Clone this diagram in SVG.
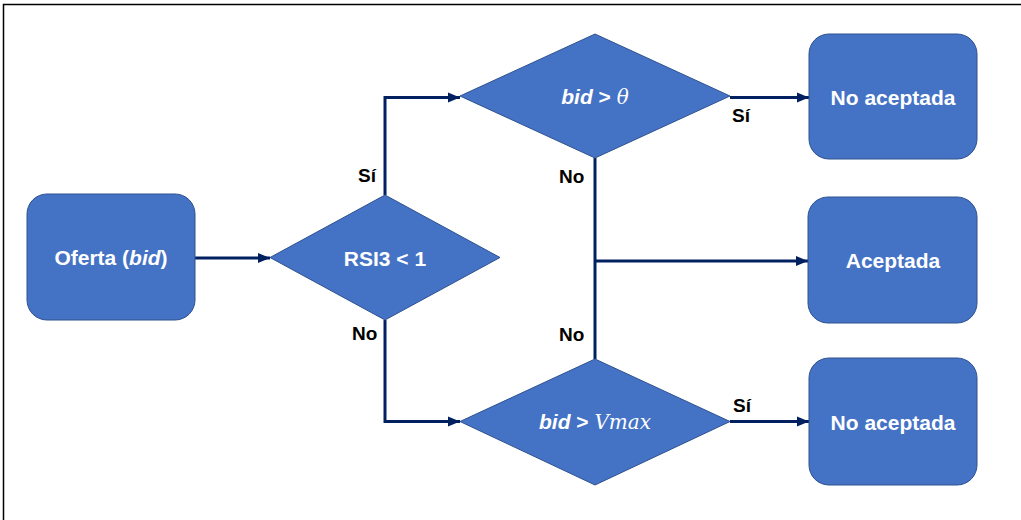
<svg xmlns="http://www.w3.org/2000/svg" width="1021" height="520" viewBox="0 0 1021 520">
  <defs>
    <style>
      .box { fill: #4472C4; stroke: #2F528F; stroke-width: 1; }
      .node-text { font-family: "Liberation Sans", Arial, sans-serif; font-weight: bold; font-size: 21px; fill: #FFFFFF; text-anchor: middle; }
      .math { font-family: "DejaVu Serif", "Liberation Serif", serif; font-style: italic; font-weight: normal; font-size: 20px; }
      .edge { fill: none; stroke: #002060; stroke-width: 3; marker-end: url(#arrow); }
      .edge-plain { fill: none; stroke: #002060; stroke-width: 3; }
      .label { font-family: "Liberation Sans", Arial, sans-serif; font-weight: bold; font-size: 19px; fill: #000000; }
    </style>
    <marker id="arrow" markerUnits="userSpaceOnUse" markerWidth="13" markerHeight="12" refX="12" refY="6" orient="auto">
      <path d="M0,1 L12,6 L0,11 Z" fill="#002060"/>
    </marker>
  </defs>

  <rect width="1021" height="520" fill="#FFFFFF"/>
  <!-- outer frame -->
  <path d="M1021,4.5 H3.5 V520" fill="none" stroke="#000000" stroke-width="1.5"/>

  <!-- connectors -->
  <g id="connectors">
    <path class="edge" d="M195,258 H270"/>
    <path class="edge" d="M385,195 V97.5 H460"/>
    <path class="edge" d="M385,320 V421.5 H460"/>
    <path class="edge" d="M730,97.5 H809"/>
    <path class="edge" d="M730,421.5 H809"/>
    <path class="edge-plain" d="M595,158 V359"/>
    <path class="edge" d="M595,261 H808"/>
    <text class="label" x="358" y="182">Sí</text>
    <text class="label" x="352" y="340">No</text>
    <text class="label" x="732" y="122">Sí</text>
    <text class="label" x="559" y="183">No</text>
    <text class="label" x="559" y="341">No</text>
    <text class="label" x="733" y="412">Sí</text>
  </g>

  <g id="oferta">
    <rect class="box" x="27" y="194" width="168" height="126" rx="20" ry="20"/>
    <text class="node-text" x="111" y="265">Oferta (<tspan font-style="italic">bid</tspan>)</text>
  </g>

  <g id="rsi3">
    <polygon class="box" points="385,195 500,257.5 385,320 270,257.5"/>
    <text class="node-text" x="385" y="266">RSI3 &lt; 1</text>
  </g>

  <g id="theta">
    <polygon class="box" points="595,34 730,96 595,158 460,96"/>
    <text class="node-text" x="595" y="104"><tspan font-style="italic">bid</tspan> &gt; <tspan class="math">θ</tspan></text>
  </g>

  <g id="vmax">
    <polygon class="box" points="595,359 730,421.5 595,485 460,421.5"/>
    <text class="node-text" x="595" y="429"><tspan font-style="italic">bid</tspan> &gt; <tspan class="math">Vmax</tspan></text>
  </g>

  <g id="no-aceptada-1">
    <rect class="box" x="809" y="34" width="168" height="125" rx="20" ry="20"/>
    <text class="node-text" x="893" y="105">No aceptada</text>
  </g>

  <g id="aceptada">
    <rect class="box" x="808" y="197" width="169" height="126" rx="20" ry="20"/>
    <text class="node-text" x="893" y="268">Aceptada</text>
  </g>

  <g id="no-aceptada-2">
    <rect class="box" x="809" y="358" width="168" height="127" rx="20" ry="20"/>
    <text class="node-text" x="893" y="430">No aceptada</text>
  </g>
</svg>
